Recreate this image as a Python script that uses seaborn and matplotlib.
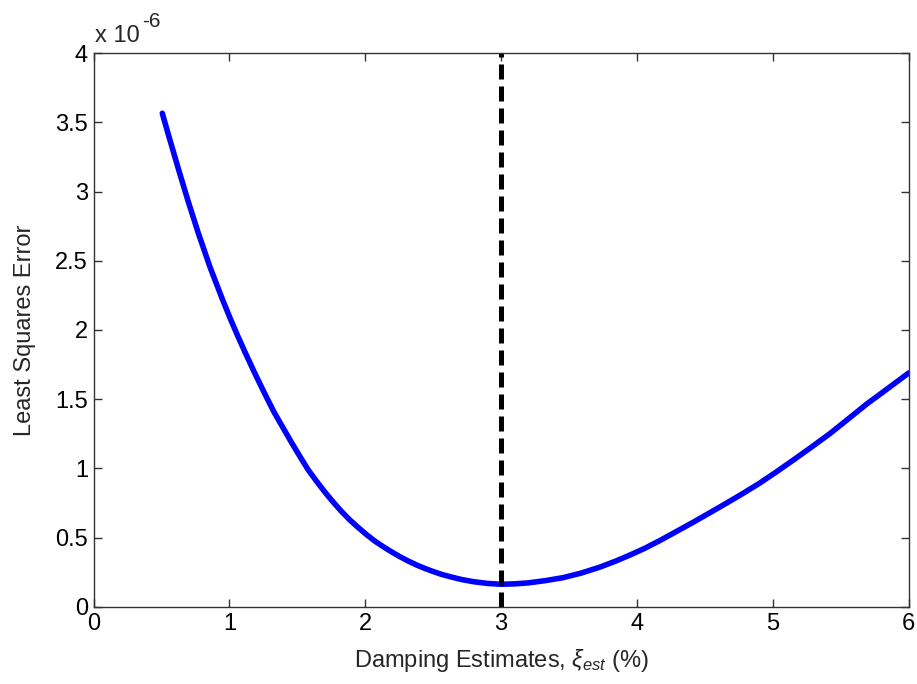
import matplotlib
matplotlib.use("Agg")
import matplotlib.pyplot as plt
import seaborn as sns
import pandas as pd

# damping estimate (%) vs least squares error (x 1e-6)
damping = [0.506, 0.551, 0.624, 0.693, 0.771, 0.857, 0.946, 1.004, 1.06, 1.115,
           1.185, 1.256, 1.327, 1.397, 1.46, 1.52, 1.58, 1.642, 1.705, 1.765,
           1.825, 1.887, 1.95, 2.01, 2.07, 2.133, 2.195, 2.255, 2.318, 2.378,
           2.44, 2.5, 2.56, 2.623, 2.71, 2.8, 2.9, 3.0, 3.1, 3.2,
           3.33, 3.457, 3.59, 3.727, 3.84, 3.948, 4.06, 4.169, 4.29, 4.414,
           4.535, 4.659, 4.78, 4.904, 5.025, 5.149, 5.285, 5.42, 5.555, 5.69,
           5.845, 6.0]
lse = [3.565, 3.41, 3.165, 2.94, 2.70, 2.455, 2.228, 2.088, 1.96, 1.84,
       1.692, 1.548, 1.41, 1.29, 1.183, 1.085, 0.99, 0.907, 0.827, 0.756,
       0.69, 0.628, 0.572, 0.522, 0.476, 0.435, 0.397, 0.363, 0.331, 0.303,
       0.278, 0.256, 0.236, 0.219, 0.198, 0.182, 0.170, 0.164, 0.167, 0.174,
       0.191, 0.212, 0.245, 0.288, 0.33, 0.375, 0.425, 0.48, 0.545, 0.612,
       0.68, 0.75, 0.82, 0.895, 0.975, 1.06, 1.155, 1.252, 1.358, 1.465,
       1.577, 1.69]
best_damping = 3.0

xticks = [0, 1, 2, 3, 4, 5, 6]
yticks = [0, 0.5, 1, 1.5, 2, 2.5, 3, 3.5, 4]

df = pd.DataFrame({"damping": damping, "lse": lse})

sns.set_style("ticks")
plt.rcParams["font.family"] = ["Liberation Sans", "DejaVu Sans"]
plt.rcParams["mathtext.fontset"] = "custom"
plt.rcParams["mathtext.it"] = "Liberation Sans:italic"
plt.rcParams["mathtext.rm"] = "Liberation Sans"

fs = 17

fig, ax = plt.subplots(figsize=(9.17, 6.84), dpi=100)
fig.subplots_adjust(left=0.102, right=0.991, top=0.9225, bottom=0.1126)

sns.lineplot(data=df, x="damping", y="lse", ax=ax, color="#0000ff",
             linewidth=4, sort=False)
ax.axvline(best_damping, color="black", linewidth=3.6, linestyle=(0, (3, 1.4)))

ax.set_xlim(0, 6)
ax.set_ylim(0, 4)
ax.set_xticks(xticks)
ax.set_yticks(yticks)
ax.set_xticklabels([f"{t:g}" for t in xticks])
ax.set_yticklabels([f"{t:g}" for t in yticks])
ax.tick_params(direction="in", top=True, right=True, labelsize=fs,
               length=6, width=1, colors="#333333", labelcolor="black", pad=4)
for s in ax.spines.values():
    s.set_color("#333333")
    s.set_linewidth(1)

ax.set_xlabel(r"Damping Estimates, $\xi_{est}$ (%)", fontsize=fs, labelpad=9)
ax.set_ylabel("Least Squares Error", fontsize=fs, labelpad=14)

# exponent label above the y axis
fig.text(95 / 917, 1 - 42 / 684, "x 10", fontsize=fs, ha="left", va="baseline")
fig.text(142 / 917, 1 - 27 / 684, "-6", fontsize=fs - 2, ha="left", va="baseline")

plt.savefig("out.png", dpi=100)
plt.close()
